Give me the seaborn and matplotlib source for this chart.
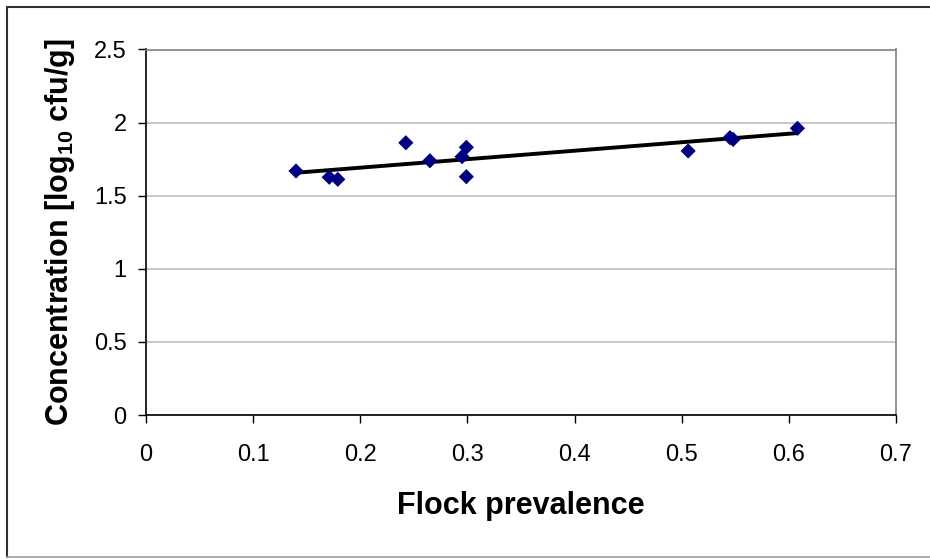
import matplotlib
matplotlib.use("Agg")
import matplotlib.pyplot as plt
from matplotlib.lines import Line2D
import seaborn as sns
import pandas as pd

# Data
flock_prevalence = [0.140, 0.171, 0.179, 0.2425, 0.265, 0.295, 0.299, 0.299,
                    0.506, 0.545, 0.548, 0.608]
concentration = [1.669, 1.626, 1.612, 1.862, 1.739, 1.767, 1.831, 1.630,
                 1.806, 1.897, 1.885, 1.961]
x_ticks = [0, 0.1, 0.2, 0.3, 0.4, 0.5, 0.6, 0.7]
x_tick_labels = ["0", "0.1", "0.2", "0.3", "0.4", "0.5", "0.6", "0.7"]
y_ticks = [0, 0.5, 1, 1.5, 2, 2.5]
y_tick_labels = ["0", "0.5", "1", "1.5", "2", "2.5"]

df = pd.DataFrame({"Flock prevalence": flock_prevalence,
                   "Concentration": concentration})

sns.set_style("white")
plt.rcParams["font.family"] = ["Liberation Sans", "DejaVu Sans"]
plt.rcParams["mathtext.fontset"] = "custom"
plt.rcParams["mathtext.rm"] = "Liberation Sans"
plt.rcParams["mathtext.bf"] = "Liberation Sans:bold"
plt.rcParams["text.color"] = "black"
plt.rcParams["axes.labelcolor"] = "black"
plt.rcParams["xtick.color"] = "black"
plt.rcParams["ytick.color"] = "black"

W, H = 930, 559
fig = plt.figure(figsize=(W / 100, H / 100), dpi=100)
fig.patch.set_facecolor("white")
left, right, top, bottom = 146, 896, 49.5, 415
ax = fig.add_axes([left / W, 1 - bottom / H, (right - left) / W, (bottom - top) / H])

sns.regplot(data=df, x="Flock prevalence", y="Concentration", ax=ax, ci=None,
            marker="D",
            scatter_kws=dict(s=60, color="#000080", edgecolors="none", zorder=4, alpha=1),
            line_kws=dict(color="black", lw=2.8, zorder=3))

ax.set_xlim(0, 0.7)
ax.set_ylim(0, 2.5)
ax.set_xticks(x_ticks)
ax.set_xticklabels(x_tick_labels)
ax.set_yticks(y_ticks)
ax.set_yticklabels(y_tick_labels)
ax.tick_params(axis="both", labelsize=17, length=6, width=1, colors="black",
               direction="out", left=True, bottom=True)
ax.tick_params(axis="x", pad=15)
ax.tick_params(axis="y", pad=8)
ax.yaxis.grid(True, color="#c0c0c0", lw=1.2)
ax.set_axisbelow(True)

for s in ["left", "bottom"]:
    ax.spines[s].set_color("black")
    ax.spines[s].set_linewidth(1.2)
for s in ["top", "right"]:
    ax.spines[s].set_visible(True)
    ax.spines[s].set_color("#808080")
    ax.spines[s].set_linewidth(1.2)

ax.set_xlabel("Flock prevalence", fontsize=22, fontweight="bold", labelpad=18)
ax.set_ylabel(r"Concentration [log$_{\mathbf{10}}$ cfu/g]", fontsize=22,
              fontweight="bold", labelpad=12)

# outer chart border
fig.add_artist(Line2D([7 / W, 7 / W], [1 - 7 / H, 1 - 557 / H], color="#303030", lw=1.5,
                      transform=fig.transFigure))
fig.add_artist(Line2D([7 / W, 1], [1 - 7 / H, 1 - 7 / H], color="#303030", lw=1.5,
                      transform=fig.transFigure))
fig.add_artist(Line2D([7 / W, 1], [1 - 557 / H, 1 - 557 / H], color="#a0a0a0", lw=1.2,
                      transform=fig.transFigure))

fig.savefig("out.png", dpi=100, facecolor="white")
